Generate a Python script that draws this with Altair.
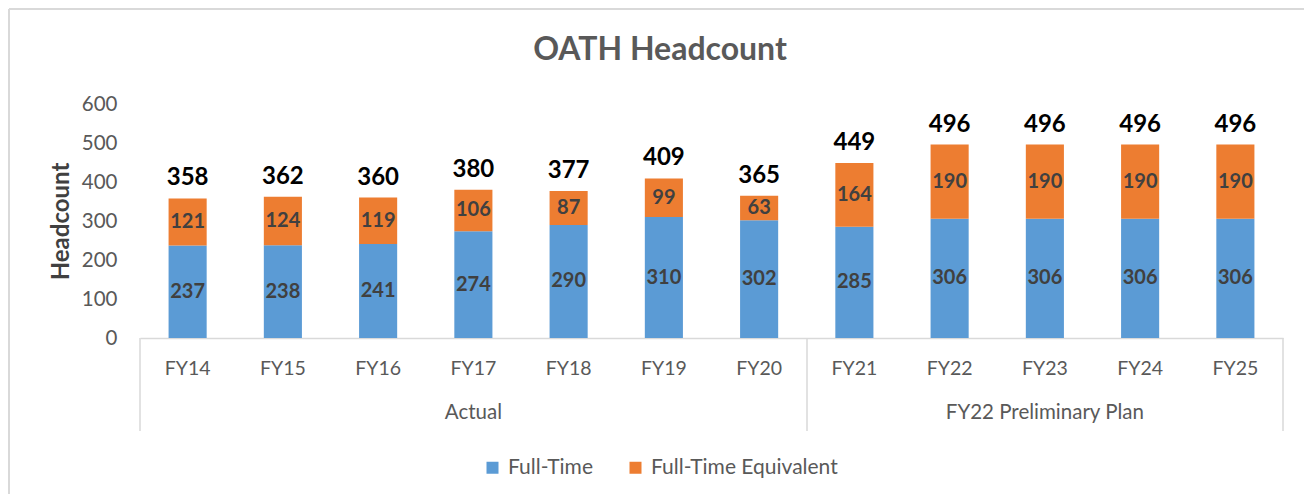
import altair as alt
import pandas as pd

categories = ["FY14", "FY15", "FY16", "FY17", "FY18", "FY19", "FY20",
              "FY21", "FY22", "FY23", "FY24", "FY25"]
full_time = [237, 238, 241, 274, 290, 310, 302, 285, 306, 306, 306, 306]
full_time_equiv = [121, 124, 119, 106, 87, 99, 63, 164, 190, 190, 190, 190]
totals = [358, 362, 360, 380, 377, 409, 365, 449, 496, 496, 496, 496]
group_names = ["Actual", "FY22 Preliminary Plan"]
group_centers = ["FY17", "FY23"]
series_names = ["Full-Time", "Full-Time Equivalent"]
series_colors = ["#5B9BD5", "#ED7D31"]
y_ticks = [0, 100, 200, 300, 400, 500, 600]

rows = []
for c, a, b in zip(categories, full_time, full_time_equiv):
    rows.append({"category": c, "series": series_names[0], "value": a, "order": 0})
    rows.append({"category": c, "series": series_names[1], "value": b, "order": 1})
df = pd.DataFrame(rows)
tot_df = pd.DataFrame({"category": categories, "total": totals})
grp_df = pd.DataFrame({"category": group_centers, "group": group_names})
one = pd.DataFrame({"k": [0]})

FONT = "Lato"
GRAY = "#595959"
LINE = "#D9D9D9"

x_scale = alt.Scale(paddingInner=0.6, paddingOuter=0.3)
x_axis = alt.Axis(
    title=None, labelAngle=0, ticks=False, domainColor=LINE, domainWidth=1.5,
    labelFont=FONT, labelFontSize=19.5, labelColor=GRAY, labelPadding=21,
)
y_scale = alt.Scale(domain=[0, 600], nice=False)
y_axis = alt.Axis(
    values=y_ticks, tickCount=7, grid=False, ticks=False, domain=False,
    labelOverlap=False,
    labelFont=FONT, labelFontSize=20.5, labelColor=GRAY, labelPadding=23,
    title="Headcount", titleFont=FONT, titleFontSize=24, titleFontWeight="bold",
    titleColor="#404040", titleX=-79, titleY=117, titleAngle=270,
    titleBaseline="middle", titleAlign="center",
)


def xcat():
    return alt.X("category:N", sort=categories, scale=x_scale, axis=x_axis)


bars = alt.Chart(df).mark_bar().encode(
    x=xcat(),
    y=alt.Y("value:Q", stack="zero", scale=y_scale, axis=y_axis),
    color=alt.Color(
        "series:N",
        scale=alt.Scale(domain=series_names, range=series_colors),
        legend=alt.Legend(
            title=None, orient="none", legendX=342, legendY=353, direction="horizontal",
            symbolType="square", symbolSize=144, symbolStrokeWidth=0,
            labelFont=FONT, labelFontSize=21, labelColor=GRAY, labelOffset=5,
            labelLimit=400, columnPadding=32,
        ),
    ),
    order=alt.Order("order:Q"),
)

seg_labels = alt.Chart(df).transform_stack(
    stack="value", groupby=["category"], as_=["y0", "y1"],
    sort=[alt.SortField("order", order="ascending")],
).transform_calculate(
    mid="(datum.y0 + datum.y1) / 2"
).mark_text(
    font=FONT, fontSize=20, fontWeight="bold", color="#404040", baseline="middle"
).encode(
    x=xcat(),
    y=alt.Y("mid:Q", scale=y_scale, axis=y_axis),
    text=alt.Text("value:Q"),
)

tot_labels = alt.Chart(tot_df).mark_text(
    font=FONT, fontSize=24, fontWeight="bold", color="#000000",
    baseline="alphabetic", dy=-13,
).encode(
    x=xcat(),
    y=alt.Y("total:Q", scale=y_scale, axis=y_axis),
    text=alt.Text("total:Q"),
)

grp_labels = alt.Chart(grp_df).mark_text(
    font=FONT, fontSize=20.5, color=GRAY, baseline="middle"
).encode(
    x=xcat(),
    y=alt.value(309),
    text="group:N",
)

seps = alt.layer(
    *[
        alt.Chart(one).mark_rule(color=LINE, strokeWidth=1.5).encode(
            x=alt.value(px), y=alt.value(234), y2=alt.value(327)
        )
        for px in [0, 667, 1143]
    ]
)

frame_left = alt.Chart(one).mark_rule(color=LINE, strokeWidth=2).encode(
    x=alt.value(-131), y=alt.value(-95), y2=alt.value(400)
)
frame_top = alt.Chart(one).mark_rule(color=LINE, strokeWidth=2).encode(
    x=alt.value(-131), x2=alt.value(1175), y=alt.value(-95)
)

title = alt.Chart(pd.DataFrame({"t": ["OATH Headcount"]})).mark_text(
    font=FONT, fontSize=32, fontWeight="bold", color=GRAY, baseline="middle"
).encode(
    x=alt.value(520), y=alt.value(-54), text="t:N"
)

chart = alt.layer(
    bars, seg_labels, tot_labels, grp_labels, seps, frame_left, frame_top, title
).properties(
    width=1143, height=234,
    autosize=alt.AutoSizeParams(type="none"),
    padding={"left": 132, "top": 96, "right": 21, "bottom": 156},
    background="white",
).configure_view(strokeWidth=0)

chart.save("out.html", embed_options={"renderer": "svg", "actions": False})
